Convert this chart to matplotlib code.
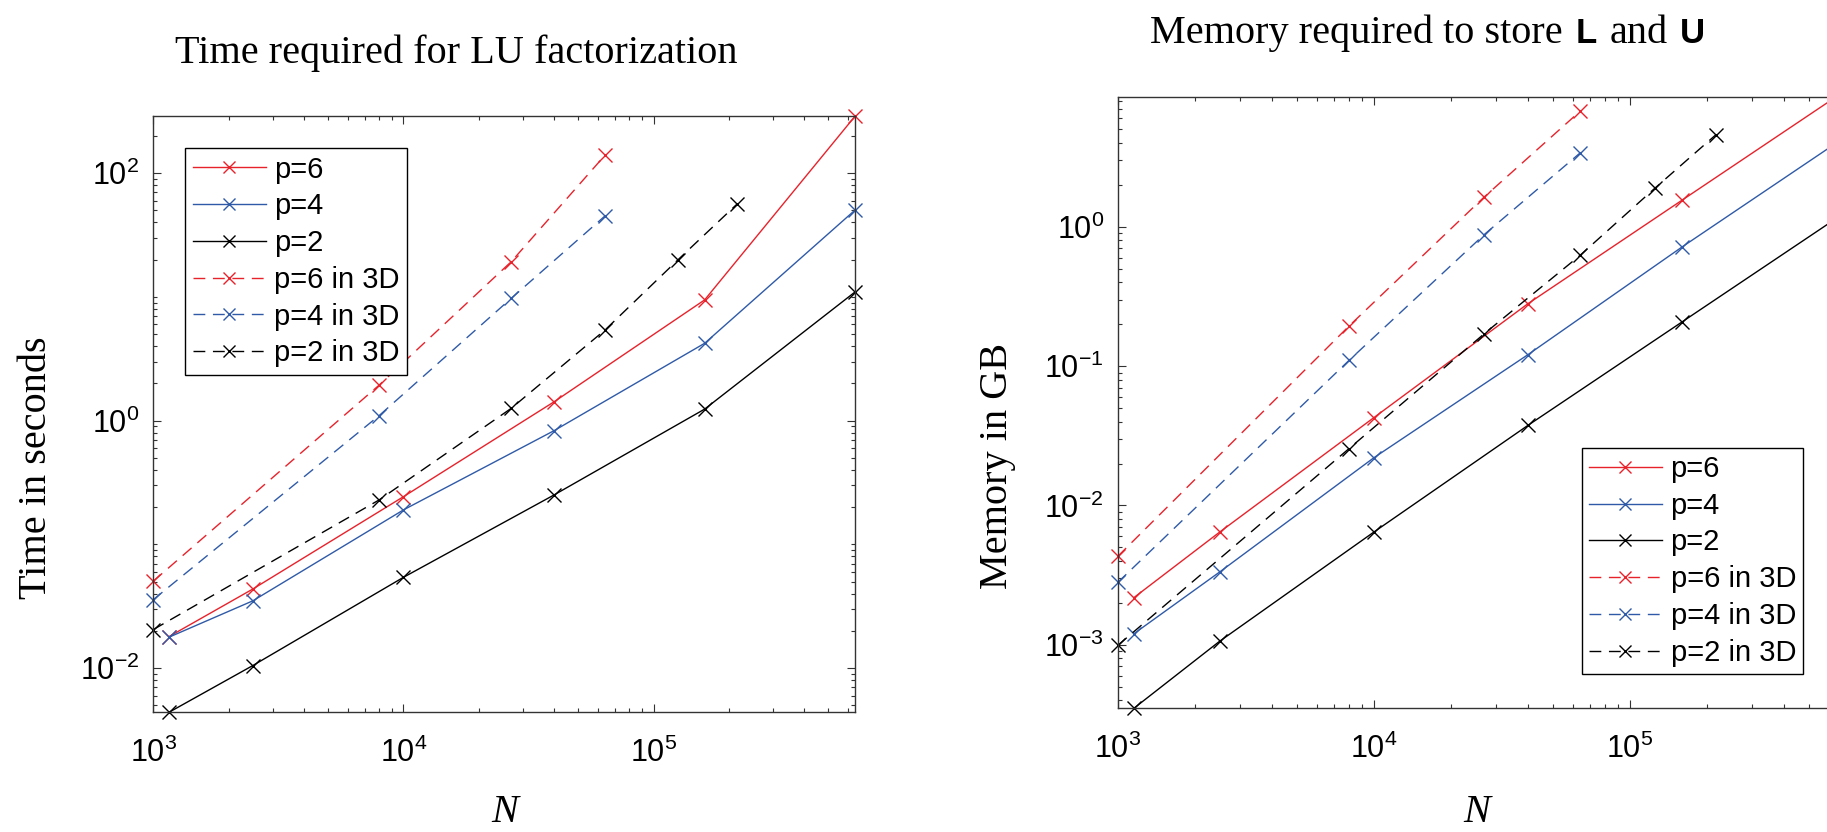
import matplotlib
matplotlib.use('Agg')
import matplotlib.pyplot as plt
import numpy as np
from matplotlib.ticker import LogLocator, NullFormatter
from matplotlib.offsetbox import TextArea, HPacker, AnchoredOffsetbox

plt.rcParams['font.family'] = ['Liberation Sans', 'DejaVu Sans']
plt.rcParams['axes.unicode_minus'] = False

# problem sizes
N_2d = [1156, 2500, 10000, 40000, 160000, 640000]
N_3d = [1000, 8000, 27000, 64000, 125000, 216000]

# time for LU factorization (seconds)
time_p6 = [0.0180, 0.0436, 0.243, 1.42, 9.46, 290.0]
time_p4 = [0.0178, 0.0350, 0.190, 0.83, 4.22, 50.5]
time_p2 = [0.0044, 0.0105, 0.0542, 0.251, 1.24, 11.0]
time_p6_3d = [0.0505, 1.94, 19.3, 140.0]
time_p4_3d = [0.0358, 1.10, 9.76, 45.2]
time_p2_3d = [0.0205, 0.229, 1.26, 5.41, 19.9, 56.5]

# memory for L and U (GB)
mem_p6 = [0.00218, 0.00644, 0.0427, 0.281, 1.556, 8.6]
mem_p4 = [0.00120, 0.00333, 0.0220, 0.121, 0.718, 4.0]
mem_p2 = [0.00035, 0.00106, 0.00644, 0.0376, 0.208, 1.15]
mem_p6_3d = [0.00431, 0.194, 1.64, 6.78]
mem_p4_3d = [0.00280, 0.110, 0.881, 3.40]
mem_p2_3d = [0.00099, 0.0256, 0.171, 0.626, 1.89, 4.56]

labels = ['p=6', 'p=4', 'p=2', 'p=6 in 3D', 'p=4 in 3D', 'p=2 in 3D']
colors = ['#e8222b', '#2f5aa8', '#000000', '#e8222b', '#2f5aa8', '#000000']
styles = ['-', '-', '-', '--', '--', '--']

SERIF = 'Liberation Serif'
EDGE = '#333333'


def draw(ax, series):
    xs_all, ys_all = [], []
    for (xs, ys), lab, col, ls in zip(series, labels, colors, styles):
        n = len(ys)
        line, = ax.plot(xs[:n], ys, ls, color=col, marker='x', markersize=10,
                        markeredgewidth=1.0, linewidth=1.0, label=lab, clip_on=False)
        if ls == '--':
            line.set_dashes((8.5, 5.5))
        xs_all += list(xs[:n])
        ys_all += list(ys)
    ax.set_xscale('log')
    ax.set_yscale('log')
    ax.set_xlim(min(xs_all), max(xs_all))
    ax.set_ylim(min(ys_all), max(ys_all))
    ax.xaxis.set_major_locator(LogLocator(base=10, numticks=20))
    ax.xaxis.set_minor_locator(LogLocator(base=10, subs=np.arange(1, 10), numticks=100))
    ax.yaxis.set_minor_locator(LogLocator(base=10, subs=np.arange(1, 10), numticks=100))
    ax.xaxis.set_minor_formatter(NullFormatter())
    ax.yaxis.set_minor_formatter(NullFormatter())
    ax.tick_params(which='both', direction='in', top=True, right=True,
                   width=0.8, color=EDGE, labelsize=22)
    ax.tick_params(which='major', length=6)
    ax.tick_params(which='minor', length=3)
    ax.tick_params(axis='x', which='both', pad=18)
    ax.tick_params(axis='y', which='both', pad=10)
    for sp in ax.spines.values():
        sp.set_linewidth(1.0)
        sp.set_color(EDGE)


fig = plt.figure(figsize=(18.27, 8.32), dpi=100)
ax1 = fig.add_axes([0.0839, 0.1439, 0.3842, 0.7167])
ax2 = fig.add_axes([0.6118, 0.1487, 0.3933, 0.7351])

draw(ax1, [(N_2d, time_p6), (N_2d, time_p4), (N_2d, time_p2),
           (N_3d, time_p6_3d), (N_3d, time_p4_3d), (N_3d, time_p2_3d)])
ax1.set_yticks([1e-2, 1e0, 1e2])

draw(ax2, [(N_2d, mem_p6), (N_2d, mem_p4), (N_2d, mem_p2),
           (N_3d, mem_p6_3d), (N_3d, mem_p4_3d), (N_3d, mem_p2_3d)])
ax2.set_yticks([1e-3, 1e-2, 1e-1, 1e0])

leg_kw = dict(fontsize=21, handlelength=2.5, handletextpad=0.3, labelspacing=0.3,
              borderpad=0.25, borderaxespad=0, fancybox=False, framealpha=1,
              edgecolor='black', markerscale=0.8, bbox_transform=fig.transFigure)
l1 = ax1.legend(loc='upper left', bbox_to_anchor=(185.4 / 1827, 1 - 148.3 / 832), **leg_kw)
l2 = ax2.legend(loc='lower right', bbox_to_anchor=(1803.3 / 1827, 1 - 674 / 832), **leg_kw)
for lg in (l1, l2):
    lg.get_frame().set_linewidth(1.0)

# axis labels
ax1.set_ylabel('Time in seconds', family=SERIF, fontsize=29, va='center')
ax1.yaxis.set_label_coords(-0.1657, 0.411)
ax2.set_ylabel('Memory in GB', family=SERIF, fontsize=29, va='center')
ax2.yaxis.set_label_coords(-0.1667, 0.396)
ax1.set_xlabel('N', family=SERIF, style='italic', fontsize=29, va='bottom')
ax1.xaxis.set_label_coords(0.5, -(831 - 712.3) / 596.3)
ax2.set_xlabel('N', family=SERIF, style='italic', fontsize=29, va='bottom')
ax2.xaxis.set_label_coords(0.5, -(831 - 708.3) / 611.6)

# titles
fig.text(456 / 1827, 1 - 63 / 832, 'Time required for LU factorization',
         family=SERIF, fontsize=29, ha='center', va='baseline')

serif_kw = dict(family=SERIF, size=29)
bold_kw = dict(family='Liberation Sans', weight='bold', size=25)
parts = [TextArea('Memory required to store', textprops=serif_kw),
         TextArea('L', textprops=bold_kw),
         TextArea('and', textprops=serif_kw),
         TextArea('U', textprops=bold_kw)]
pack = HPacker(children=parts, align='baseline', pad=0, sep=9)
title_box = AnchoredOffsetbox(loc='lower center', child=pack, pad=0, borderpad=0,
                              frameon=False, bbox_to_anchor=(1427.6 / 1827, 1 - 52 / 832),
                              bbox_transform=fig.transFigure)
fig.add_artist(title_box)

fig.savefig('out.png', dpi=100)
